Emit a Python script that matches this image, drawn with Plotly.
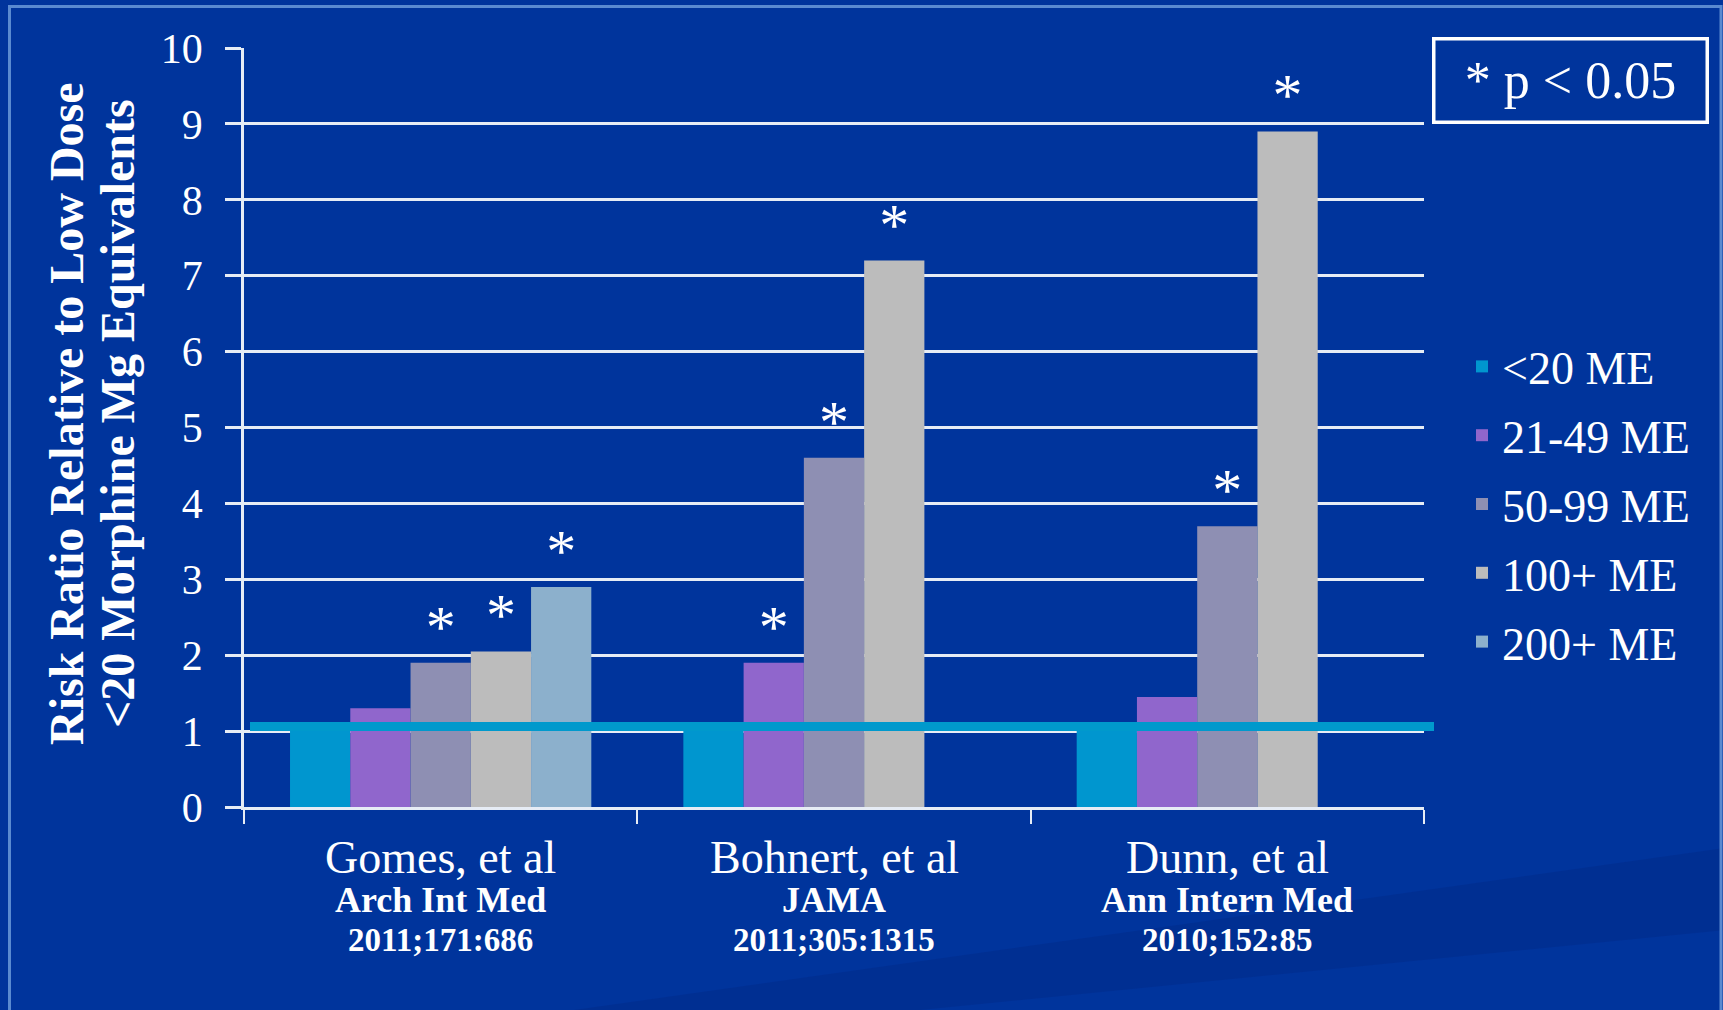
import plotly.graph_objects as go

# ---- data ----
studies = ["Gomes, et al", "Bohnert, et al", "Dunn, et al"]
journals = ["Arch Int Med", "JAMA", "Ann Intern Med"]
citations = ["2011;171:686", "2011;305:1315", "2010;152:85"]

series_names = ["<20 ME", "21-49 ME", "50-99 ME", "100+ ME", "200+ ME"]
risk_lt20 = [1.0, 1.0, 1.0]
risk_21_49 = [1.3, 1.9, 1.45]
risk_50_99 = [1.9, 4.6, 3.7]
risk_100p = [2.05, 7.2, 8.9]
risk_200p = [2.9, None, None]

sig_lt20 = [False, False, False]
sig_21_49 = [False, True, False]
sig_50_99 = [True, True, True]
sig_100p = [True, True, True]
sig_200p = [True, False, False]

reference_ratio = 1.0
y_ticks = [0, 1, 2, 3, 4, 5, 6, 7, 8, 9, 10]
y_title_lines = ["Risk Ratio Relative to Low Dose", "<20 Morphine Mg Equivalents"]
p_note = "* p < 0.05"

# ---- styling ----
colors = ["#0096cf", "#9066cc", "#8e8fb3", "#bcbcbc", "#8cb0cc"]
serif = "Liberation Serif, Times New Roman, serif"
bg = "#00349c"

values = [risk_lt20, risk_21_49, risk_50_99, risk_100p, risk_200p]
sigs = [sig_lt20, sig_21_49, sig_50_99, sig_100p, sig_200p]

fig = go.Figure()
for i, name in enumerate(series_names):
    fig.add_trace(go.Bar(
        x=studies, y=values[i], name=name,
        marker=dict(color=colors[i], line=dict(width=0)),
        text=["*" if s else "" for s in sigs[i]],
        textposition="outside",
        textfont=dict(family=serif, size=60, color="white"),
        cliponaxis=False,
        legendgroup=name,
        hoverinfo="skip",
    ))

L, R, T, B = 244, 299, 48, 203
W, H = 1723, 1010
pw, ph = W - L - R, H - T - B

def px_x(xp):
    return (xp - L) / pw

def px_y(yp):
    return (H - B - yp) / ph

fig.update_layout(
    width=W, height=H,
    margin=dict(l=L, r=R, t=T, b=B),
    paper_bgcolor=bg, plot_bgcolor="rgba(0,0,0,0)",
    barmode="group", bargap=0.234, bargroupgap=0,
    font=dict(family=serif, color="white"),
    showlegend=True,
    legend=dict(
        x=px_x(1462), y=px_y(330), xanchor="left", yanchor="top",
        font=dict(family=serif, size=46, color="white"),
        bgcolor="rgba(0,0,0,0)", tracegroupgap=6,
        traceorder="grouped",
    ),
    xaxis=dict(
        type="category", showline=True, linecolor="#e6ecf5", linewidth=2.5,
        ticks="outside", tickson="boundaries", ticklen=14, tickwidth=2,
        tickcolor="#e6ecf5", showticklabels=False, showgrid=False,
        zeroline=False,
    ),
    yaxis=dict(
        range=[0, 10], tickvals=y_ticks, showline=True, linecolor="#e6ecf5",
        linewidth=2.5, ticks="outside", ticklen=16, tickwidth=2.5,
        tickcolor="#e6ecf5", showgrid=True, gridcolor="#e6ecf5", gridwidth=2.5,
        zeroline=False, tickfont=dict(family=serif, size=42, color="white"),
        ticklabelstandoff=14,
    ),
)

# faint background band (slide decoration)
band = [(560, 1012), (1725, 848), (1725, 930), (900, 1012)]
path = "M " + " L ".join(f"{px_x(a)},{px_y(b)}" for a, b in band) + " Z"
fig.add_shape(type="path", xref="paper", yref="paper", path=path,
              fillcolor="#002c8a", opacity=0.55, line=dict(width=0),
              layer="below")

# reference line at risk ratio = 1
fig.add_shape(type="rect", xref="paper", yref="y",
              x0=px_x(250), x1=px_x(1434),
              ysizemode="pixel", yanchor=reference_ratio, y0=0, y1=9,
              fillcolor="#0099cc", line=dict(width=0), layer="above")

# outer frame
fig.add_shape(type="rect", xref="paper", yref="paper",
              x0=px_x(9.5), x1=px_x(1721), y0=px_y(1030), y1=px_y(6.5),
              line=dict(color="#5a8ad0", width=3), fillcolor="rgba(0,0,0,0)",
              layer="below")

# y-axis title (two lines)
for j, (line, xp) in enumerate(zip(y_title_lines, [66, 117])):
    fig.add_annotation(text="<b>" + line.replace("<", "&lt;") + "</b>",
                       xref="paper", yref="paper", x=px_x(xp), y=px_y(414),
                       textangle=-90, showarrow=False,
                       font=dict(family=serif, size=48, color="white"),
                       xanchor="center", yanchor="middle")

# category labels
for s, j, c in zip(studies, journals, citations):
    fig.add_annotation(text=s, x=s, xref="x", yref="paper", y=px_y(857),
                       showarrow=False, yanchor="middle",
                       font=dict(family=serif, size=46, color="white"))
    fig.add_annotation(text="<b>" + j + "</b>", x=s, xref="x", yref="paper",
                       y=px_y(900), showarrow=False, yanchor="middle",
                       font=dict(family=serif, size=36, color="white"))
    fig.add_annotation(text="<b>" + c + "</b>", x=s, xref="x", yref="paper",
                       y=px_y(940), showarrow=False, yanchor="middle",
                       font=dict(family=serif, size=33, color="white"))

# significance note box
fig.add_annotation(text=p_note, xref="paper", yref="paper",
                   x=px_x(1570), y=px_y(81), showarrow=False,
                   xanchor="center", yanchor="middle",
                   width=266, height=76, borderpad=2,
                   bordercolor="white", borderwidth=3.5,
                   font=dict(family=serif, size=52, color="white"))

fig.write_html("out.html")
